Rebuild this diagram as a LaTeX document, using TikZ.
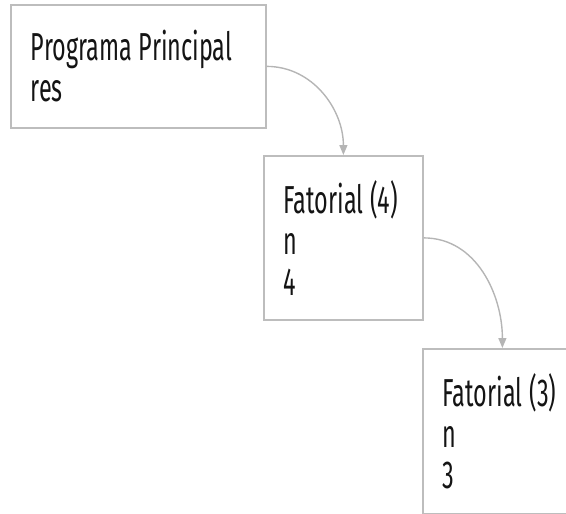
\documentclass[tikz,border=0pt]{standalone}
\usepackage{fontspec}
\setmainfont{Fira Sans}[FakeStretch=0.6]
\usetikzlibrary{arrows.meta}
\definecolor{boxline}{HTML}{BDBDBD}
\definecolor{linkline}{HTML}{B5B5B5}
\definecolor{ink}{HTML}{141414}
% narrow word gap for the condensed lettering
\newcommand{\gap}{\hspace{7pt}}
\tikzset{
  frame/.style={draw=boxline, line width=1.8pt, anchor=north west,
    inner xsep=20pt, inner ysep=0pt, align=left, text=ink,
    font=\fontsize{39}{41}\selectfont},
  link/.style={draw=linkline, line width=1.4pt,
    -{Triangle[length=10pt,width=8pt]}}
}
\begin{document}
\begin{tikzpicture}[x=1pt,y=1pt]
  \useasboundingbox (0,0) rectangle (566,-514);
  \node[frame, text width=215pt, minimum height=123pt] (main) at (10,-4)
    {Programa\gap Principal\\res};
  \node[frame, text width=119pt, minimum height=164pt] (f4) at (263,-155)
    {Fatorial\gap(4)\\n\\4};
  \node[frame, text width=119pt, minimum height=165pt] (f3) at (422,-348)
    {Fatorial\gap(3)\\n\\3};
  \draw[link] (main.east) to[out=0,in=90] (f4.north);
  \draw[link] (f4.east) to[out=0,in=90] (f3.north);
\end{tikzpicture}
\end{document}
